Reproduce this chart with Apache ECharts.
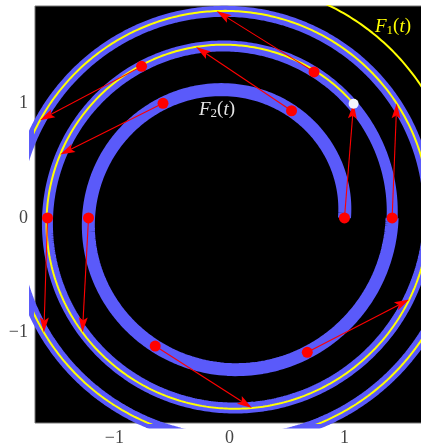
<!DOCTYPE html>
<html>
<head>
<meta charset="utf-8">
<script src="https://cdn.jsdelivr.net/npm/echarts@6/dist/echarts.min.js"></script>
<style>
  html, body { margin: 0; padding: 0; background: #fff; }
  #main { width: 421px; height: 444px; }
</style>
</head>
<body>
<div id="main"></div>
<script>
// parameter values of the red sample points on F2(t)
const sampleT = [1, 1.1667, 1.3333, 1.5, 1.6667, 1.8333, 2, 2.1667, 2.3333, 2.5];
// curve parameter ranges
const blueInnerRange = [1, 2];
const blueOuterRange = [2, 4];
const yellowRange = [1, 3.15];
const arrowLength = 1;
// tick labels
const xTicks = [-1, 0, 1];
const yTicks = [-1, 0, 1];

// F2(t): spiral r = sqrt(t), angle = 2*pi*t
function f2(t) {
  const r = Math.sqrt(t), a = 2 * Math.PI * t;
  return [r * Math.cos(a), r * Math.sin(a)];
}
// F1(t) = F2(t) + unit tangent of F2 at t
function f1(t) {
  const r = Math.sqrt(t), a = 2 * Math.PI * t;
  const dr = 1 / (2 * r), da = 2 * Math.PI;
  const dx = dr * Math.cos(a) - r * da * Math.sin(a);
  const dy = dr * Math.sin(a) + r * da * Math.cos(a);
  const n = Math.hypot(dx, dy);
  const p = f2(t);
  return [p[0] + arrowLength * dx / n, p[1] + arrowLength * dy / n];
}
function curve(fn, range) {
  const pts = [];
  const steps = Math.round((range[1] - range[0]) * 500);
  for (let i = 0; i <= steps; i++) {
    pts.push(fn(range[0] + (range[1] - range[0]) * i / steps));
  }
  return pts;
}

const dots = sampleT.map(f2);
const arrows = sampleT.map(t => f2(t).concat(f1(t)));
const startF1 = [f1(sampleT[0])];

const chart = echarts.init(document.getElementById('main'));
const tickFont = { color: '#444', fontFamily: 'Liberation Serif', fontSize: 18 };
const minus = v => (v < 0 ? '\u2212' + Math.abs(v) : String(v));

function fLabel(sub, color) {
  return {
    text: '{i|F}{s|' + sub + '}{n|(}{i|t}{n|)}',
    rich: {
      i: { fontFamily: 'Liberation Serif', fontStyle: 'italic', fontSize: 19, fill: color },
      n: { fontFamily: 'Liberation Serif', fontSize: 19, fill: color },
      s: { fontFamily: 'Liberation Serif', fontSize: 13, fill: color, padding: [9, 0, 0, 0] }
    }
  };
}

chart.setOption({
  animation: false,
  grid: {
    left: 35, top: 6, width: 390, height: 417,
    outerBoundsMode: 'none', containLabel: false,
    show: true, backgroundColor: '#000', borderColor: '#777', borderWidth: 1
  },
  xAxis: {
    type: 'value', min: -1.69, max: 1.70,
    axisLine: { show: false }, axisTick: { show: false }, splitLine: { show: false },
    axisLabel: Object.assign({ customValues: xTicks, margin: 6, formatter: minus }, tickFont)
  },
  yAxis: {
    type: 'value', min: -1.79, max: 1.85,
    axisLine: { show: false }, axisTick: { show: false }, splitLine: { show: false },
    axisLabel: Object.assign({ customValues: yTicks, margin: 7, formatter: minus }, tickFont)
  },
  series: [
    {
      type: 'line', data: curve(f2, blueInnerRange), showSymbol: false, z: 1,
      lineStyle: { color: '#5a5afa', width: 13, cap: 'butt' }
    },
    {
      type: 'line', data: curve(f2, blueOuterRange), showSymbol: false, z: 1,
      lineStyle: { color: '#5a5afa', width: 11, cap: 'butt' }
    },
    {
      type: 'line', data: curve(f1, yellowRange), showSymbol: false, z: 2,
      lineStyle: { color: '#ffff00', width: 2 }
    },
    {
      type: 'custom', z: 5,
      data: arrows,
      renderItem: function (params, api) {
        const p0 = api.coord([api.value(0), api.value(1)]);
        const p1 = api.coord([api.value(2), api.value(3)]);
        const dx = p1[0] - p0[0], dy = p1[1] - p0[1];
        const len = Math.hypot(dx, dy);
        const ux = dx / len, uy = dy / len, nx = -uy, ny = ux;
        const headLen = 15, headW = 4.5, notch = 12;
        const nxp = p1[0] - ux * notch, nyp = p1[1] - uy * notch;
        return {
          type: 'group',
          children: [
            {
              type: 'line',
              shape: { x1: p0[0], y1: p0[1], x2: nxp, y2: nyp },
              style: { stroke: '#ff0000', lineWidth: 1.1 }
            },
            {
              type: 'polygon',
              shape: {
                points: [
                  p1,
                  [p1[0] - ux * headLen + nx * headW, p1[1] - uy * headLen + ny * headW],
                  [nxp, nyp],
                  [p1[0] - ux * headLen - nx * headW, p1[1] - uy * headLen - ny * headW]
                ]
              },
              style: { fill: '#ff0000' }
            }
          ]
        };
      }
    },
    {
      type: 'scatter', data: dots, symbolSize: 11, z: 10,
      itemStyle: { color: '#ff0000', opacity: 1 }
    },
    {
      type: 'scatter', data: startF1, symbolSize: 10, z: 11,
      itemStyle: { color: '#f4f4ff', opacity: 1 }
    }
  ],
  graphic: [
    { type: 'text', left: 375, top: 17, z: 20, style: fLabel('1', '#ffff00') },
    { type: 'text', left: 199, top: 100, z: 20, style: fLabel('2', '#e6e6e6') }
  ]
});
</script>
</body>
</html>
